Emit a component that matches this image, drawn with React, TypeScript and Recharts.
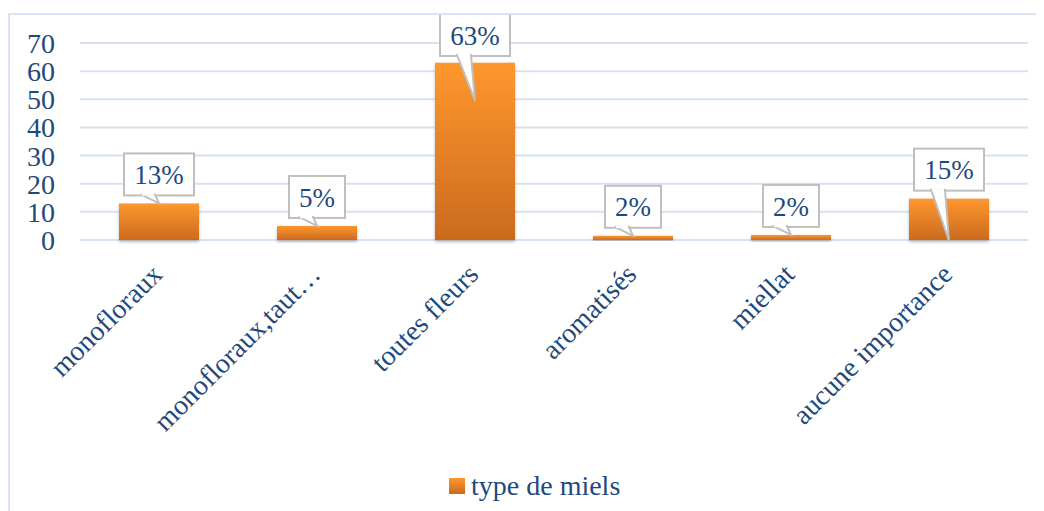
import { BarChart, Bar, XAxis, YAxis, CartesianGrid, LabelList } from "recharts";

const categories = [
  "monofloraux",
  "monofloraux,taut…",
  "toutes fleurs",
  "aromatisés",
  "miellat",
  "aucune importance",
];
const miels = [13, 5, 63, 1.5, 1.8, 14.7];
const labels = ["13%", "5%", "63%", "2%", "2%", "15%"];
const yTicks = [0, 10, 20, 30, 40, 50, 60, 70];
const seriesName = "type de miels";

const data = categories.map((name, i) => ({ name, value: miels[i], label: labels[i] }));

const TEXT = "#1F497D";
const FONT = "Liberation Serif, Times New Roman, serif";
// how far the callout pointer reaches into the bar (Excel quirk)
const tipDrop = [0, 0, 38, 0, 0, 42];

const Callout = (props: any) => {
  const { x, y, width, index, value } = props;
  const cx = x + width / 2;
  const text = String(value);
  const boxW = text.length === 2 ? 56 : 70;
  const boxH = 42;
  let bottom = y - 8;
  let top = bottom - boxH;
  if (top < -1) {
    top = -1;
    bottom = top + boxH;
  }
  const left = cx - boxW / 2;
  const tipY = y + (tipDrop[index] || 0);
  const pts = `${cx - 18},${bottom - 1} ${cx},${tipY} ${cx - 4},${bottom - 1}`;
  return (
    <g>
      <rect x={left} y={top} width={boxW} height={boxH} fill="#fff" stroke="#BFBFBF" strokeWidth={2} />
      <polygon points={pts} fill="#fff" stroke="#BFBFBF" strokeWidth={2} strokeLinejoin="miter" />
      <line x1={cx - 17} y1={bottom - 1} x2={cx - 5} y2={bottom - 1} stroke="#fff" strokeWidth={2.5} />
      <text x={cx} y={top + boxH / 2} dy="0.36em" textAnchor="middle" fill={TEXT} fontSize={27} fontFamily={FONT}>
        {text}
      </text>
    </g>
  );
};

const CategoryTick = (props: any) => {
  const { x, y, payload } = props;
  const ax = x + 5;
  const ay = y + 36;
  return (
    <text
      x={ax}
      y={ay}
      textAnchor="end"
      transform={`rotate(-45, ${ax}, ${ay})`}
      fill={TEXT}
      fontSize={28}
      fontFamily={FONT}
    >
      {payload.value}
    </text>
  );
};

const BarShape = (props: any) => {
  const { x, y, width, height } = props;
  return <rect x={x} y={y} width={width} height={height} fill="url(#mielGrad)" filter="url(#barShadow)" />;
};

export default function App() {
  return (
    <div style={{ paddingTop: 5 }}>
      <div
        style={{
          position: "relative",
          width: 1040,
          height: 498,
          borderTop: "2px solid #DAE4F1",
          borderLeft: "2px solid #DAE4F1",
        }}
      >
        <BarChart
          width={1034}
          height={496}
          data={data}
          margin={{ top: 28, right: 16, bottom: 71, left: 0 }}
          barSize={80}
        >
          <defs>
            <linearGradient id="mielGrad" x1="0" y1="0" x2="0" y2="1">
              <stop offset="0%" stopColor="#FF972F" />
              <stop offset="100%" stopColor="#CB6A1E" />
            </linearGradient>
            <filter id="barShadow" x="-10%" y="-10%" width="120%" height="130%">
              <feDropShadow dx="0" dy="2" stdDeviation="1.5" floodColor="#808080" floodOpacity="0.55" />
            </filter>
          </defs>
          <CartesianGrid vertical={false} stroke="#D6E2F1" strokeWidth={2} />
          <XAxis
            dataKey="name"
            axisLine={false}
            tickLine={false}
            tickSize={0}
            tickMargin={0}
            height={200}
            interval={0}
            tick={<CategoryTick />}
          />
          <YAxis
            width={70}
            domain={[0, 70]}
            ticks={yTicks}
            interval={0}
            axisLine={false}
            tickLine={false}
            tickSize={0}
            tickMargin={25}
            tick={{ fill: TEXT, fontSize: 28, fontFamily: FONT }}
          />
          <Bar dataKey="value" name={seriesName} isAnimationActive={false} shape={<BarShape />}>
            <LabelList dataKey="label" content={<Callout />} />
          </Bar>
        </BarChart>
        <div
          style={{
            position: "absolute",
            left: 439,
            top: 455,
            display: "flex",
            alignItems: "center",
            fontFamily: FONT,
            fontSize: 28,
            color: TEXT,
          }}
        >
          <span
            style={{
              display: "inline-block",
              width: 16,
              height: 16,
              marginRight: 6,
              background: "linear-gradient(#FF972F, #CB6A1E)",
            }}
          />
          <span>{seriesName}</span>
        </div>
      </div>
    </div>
  );
}
